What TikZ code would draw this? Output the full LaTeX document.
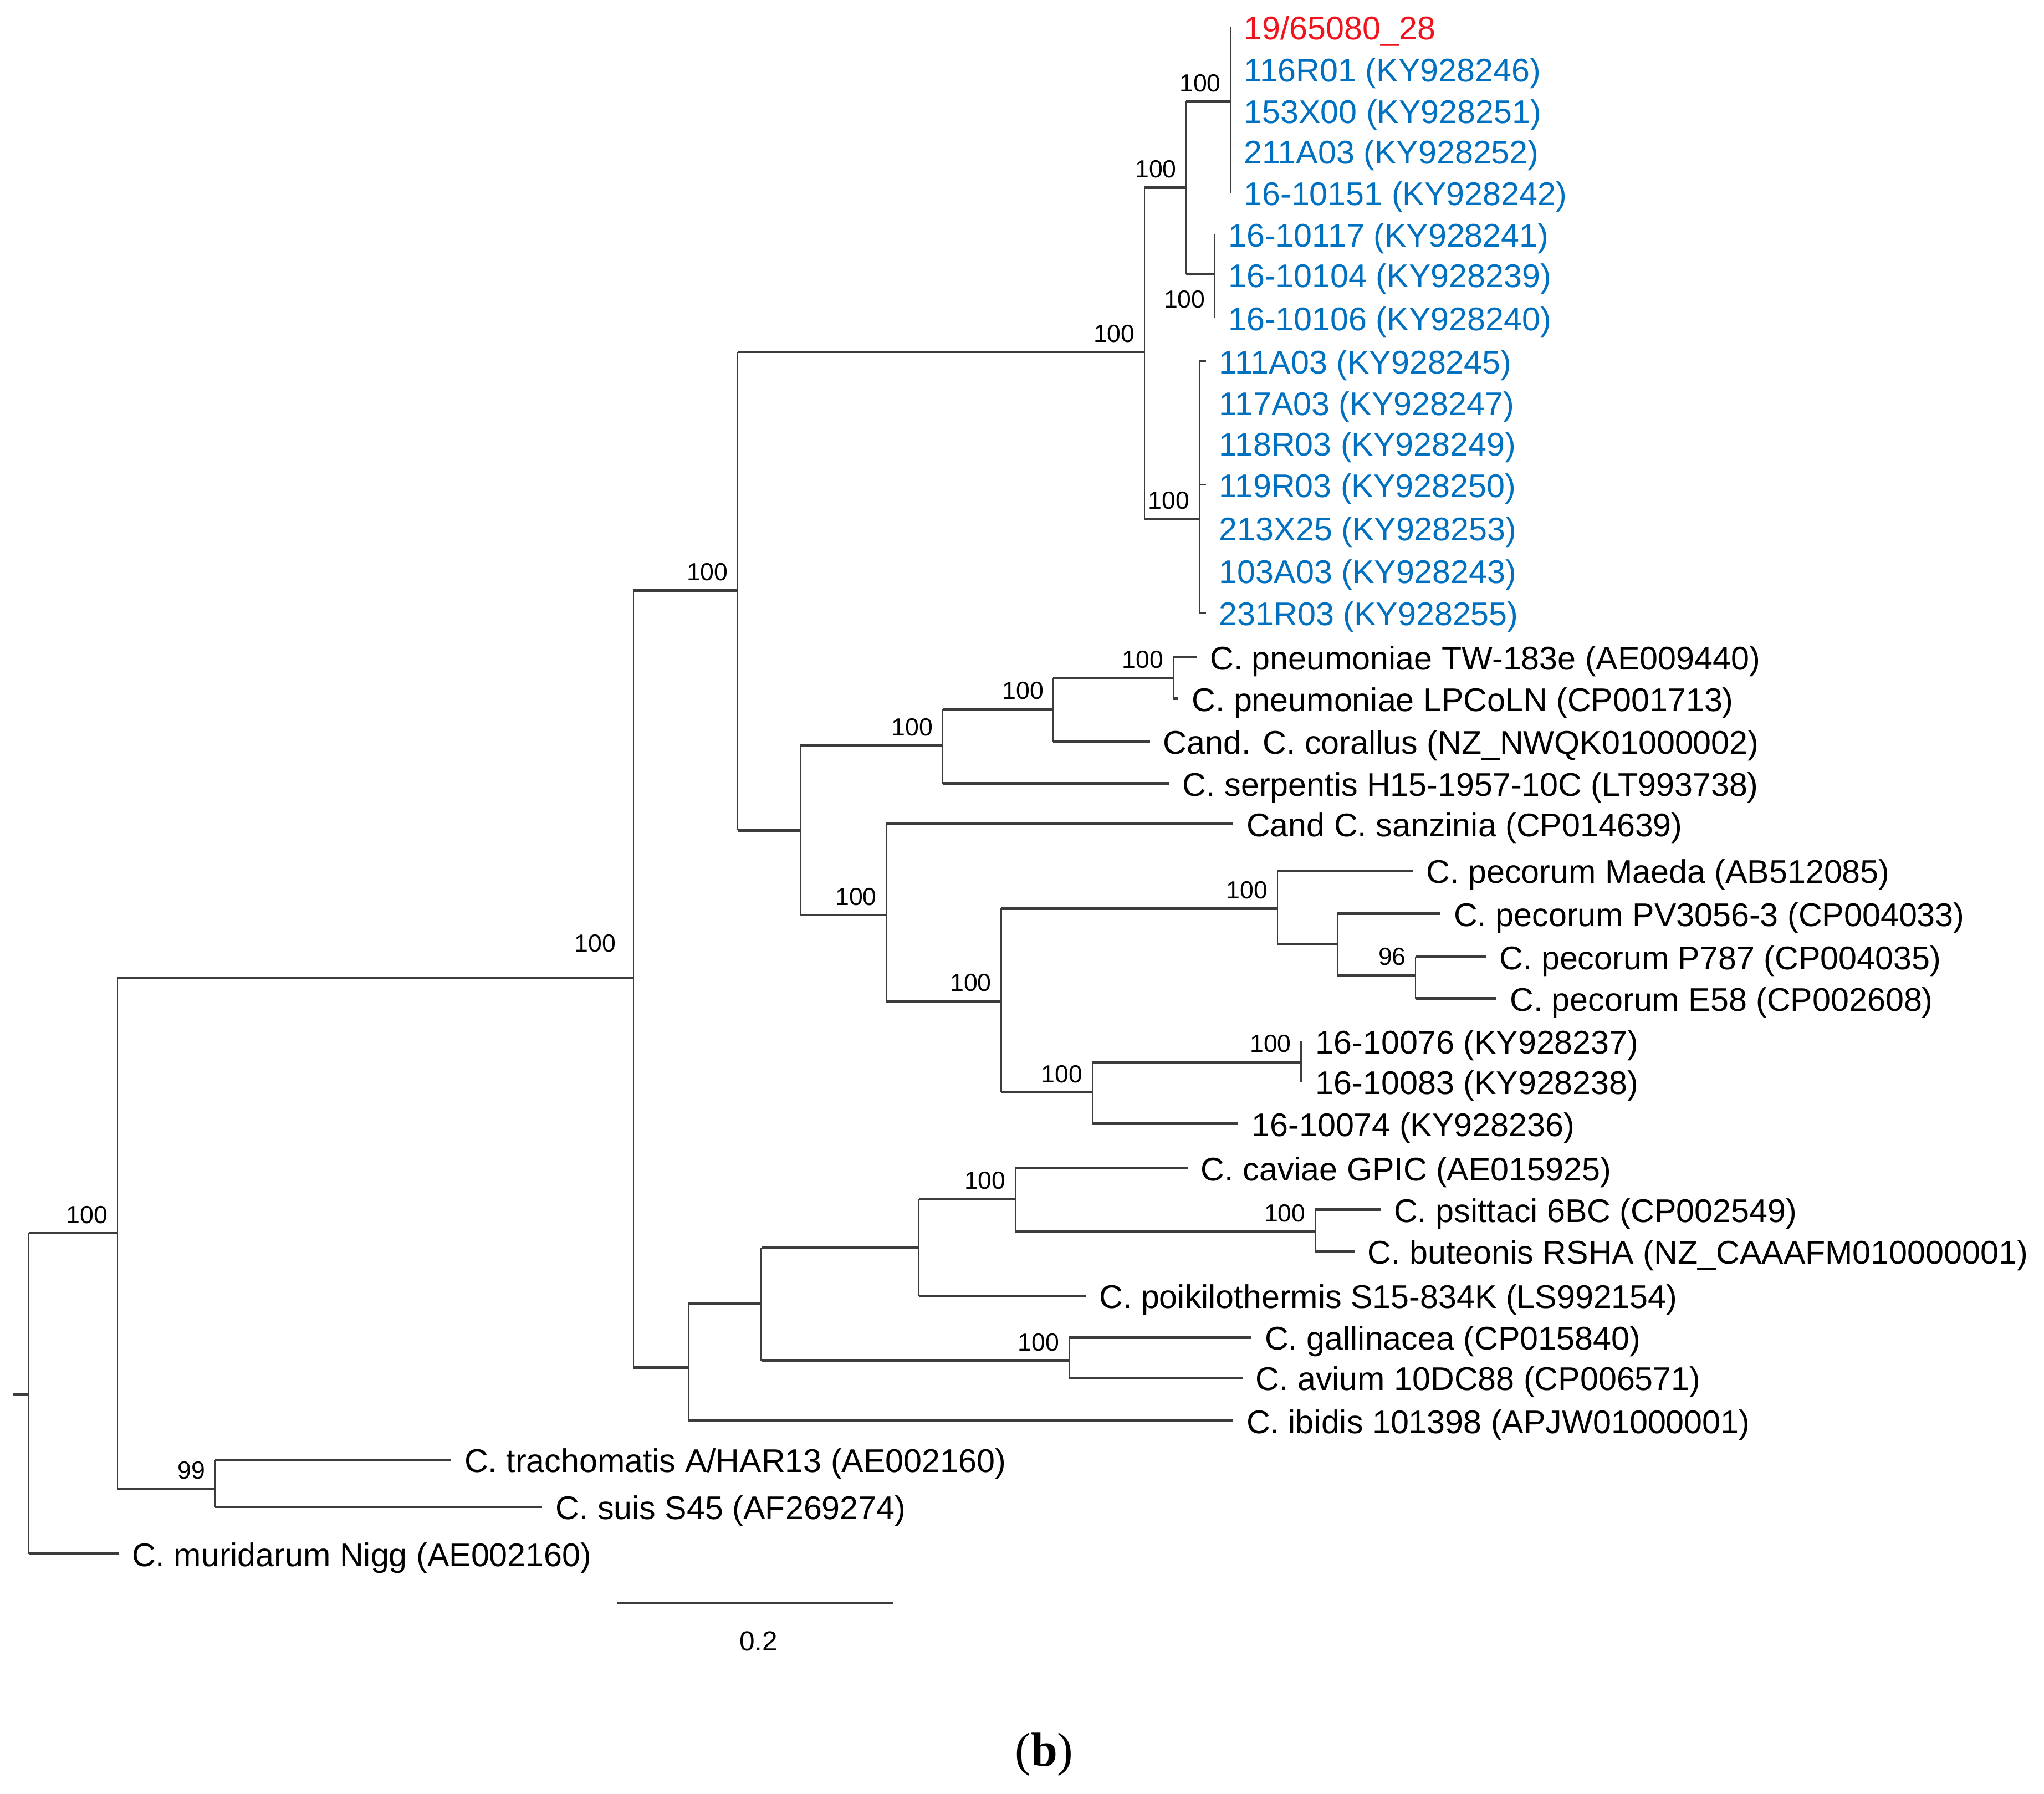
\documentclass[tikz,border=0pt]{standalone}
\usepackage{fontspec}
\setmainfont{Liberation Sans}
\newfontfamily\capfont{Liberation Serif}
\usetikzlibrary{positioning}
\definecolor{strainred}{RGB}{240,20,30}
\definecolor{strainblue}{RGB}{0,112,192}
\definecolor{branchgray}{RGB}{60,60,60}
\tikzstyle{leaf} = [anchor=west, inner xsep=0.25cm, inner ysep=0pt, text height=0.55cm, text depth=0.07cm, font=\fontsize{17.9}{20}\selectfont]
\tikzstyle{boot} = [anchor=south east, inner sep=0.1cm, xshift=-0.08cm, yshift=0.08cm, font=\fontsize{13.5}{15}\selectfont]
\tikzstyle{hbar} = [draw=branchgray, line width=1.4pt]
\tikzstyle{vbar} = [draw=branchgray, line width=0.7pt]

\begin{document}
\begin{tikzpicture}[x=0.025cm, y=-0.025cm]
        \useasboundingbox (0,0) rectangle (1568,1376);

        % leaves
        \node [leaf, text=strainred]  (s1)  at (944,21)  {19/65080\_28};
        \node [leaf, text=strainblue] (s2)  at (944,53)  {116R01 (KY928246)};
        \node [leaf, text=strainblue] (s3)  at (944,85)  {153X00 (KY928251)};
        \node [leaf, text=strainblue] (s4)  at (944,116) {211A03 (KY928252)};
        \node [leaf, text=strainblue] (s5)  at (944,148) {16-10151 (KY928242)};
        \node [leaf, text=strainblue] (s6)  at (932,180) {16-10117 (KY928241)};
        \node [leaf, text=strainblue] (s7)  at (932,211) {16-10104 (KY928239)};
        \node [leaf, text=strainblue] (s8)  at (932,244) {16-10106 (KY928240)};
        \node [leaf, text=strainblue] (s9)  at (925,277) {111A03 (KY928245)};
        \node [leaf, text=strainblue] (s10) at (925,309) {117A03 (KY928247)};
        \node [leaf, text=strainblue] (s11) at (925,340) {118R03 (KY928249)};
        \node [leaf, text=strainblue] (s12) at (925,372) {119R03 (KY928250)};
        \node [leaf, text=strainblue] (s13) at (925,405) {213X25 (KY928253)};
        \node [leaf, text=strainblue] (s14) at (925,438) {103A03 (KY928243)};
        \node [leaf, text=strainblue] (s15) at (925,470) {231R03 (KY928255)};
        \node [leaf] (s16) at (918,504)  {C. pneumoniae TW-183e (AE009440)};
        \node [leaf] (s17) at (904,536)  {C. pneumoniae LPCoLN (CP001713)};
        \node [leaf] (s18) at (882,569)  {Cand. C. corallus (NZ\_NWQK01000002)};
        \node [leaf] (s19) at (897,601)  {C. serpentis H15-1957-10C (LT993738)};
        \node [leaf] (s20) at (946,632)  {Cand C. sanzinia (CP014639)};
        \node [leaf] (s21) at (1084,668) {C. pecorum Maeda (AB512085)};
        \node [leaf] (s22) at (1105,701) {C. pecorum PV3056-3 (CP004033)};
        \node [leaf] (s23) at (1140,734) {C. pecorum P787 (CP004035)};
        \node [leaf] (s24) at (1148,766) {C. pecorum E58 (CP002608)};
        \node [leaf] (s25) at (999,799)  {16-10076 (KY928237)};
        \node [leaf] (s26) at (999,830)  {16-10083 (KY928238)};
        \node [leaf] (s27) at (950,862)  {16-10074 (KY928236)};
        \node [leaf] (s28) at (911,896)  {C. caviae GPIC (AE015925)};
        \node [leaf] (s29) at (1059,928) {C. psittaci 6BC (CP002549)};
        \node [leaf] (s30) at (1039,960) {C. buteonis RSHA (NZ\_CAAAFM010000001)};
        \node [leaf] (s31) at (833,994)  {C. poikilothermis S15-834K (LS992154)};
        \node [leaf] (s32) at (960,1026) {C. gallinacea (CP015840)};
        \node [leaf] (s33) at (953,1057) {C. avium 10DC88 (CP006571)};
        \node [leaf] (s34) at (946,1090) {C. ibidis 101398 (APJW01000001)};
        \node [leaf] (s35) at (346,1120) {C. trachomatis A/HAR13 (AE002160)};
        \node [leaf] (s36) at (416,1156) {C. suis S45 (AF269274)};
        \node [leaf] (s37) at (91,1192)  {C. muridarum Nigg (AE002160)};

        % internal nodes
        \coordinate (root) at (10,1070);
        \coordinate (nA)  at (22,1070);
        \coordinate (nB)  at (90,946);
        \coordinate (nT)  at (165,1142);
        \coordinate (nC)  at (486,750);
        \coordinate (nD)  at (566,453);
        \coordinate (nF)  at (878,270);
        \coordinate (nH)  at (910,144);
        \coordinate (nJ)  at (944,78);
        \coordinate (nK)  at (932,210);
        \coordinate (nI)  at (920,398);
        \coordinate (nG)  at (614,637);
        \coordinate (nL)  at (723,572);
        \coordinate (nN)  at (808,544);
        \coordinate (nO)  at (900,520);
        \coordinate (nM)  at (680,702);
        \coordinate (nP)  at (768,768);
        \coordinate (nQ)  at (980,697);
        \coordinate (nS)  at (1026,724);
        \coordinate (nU)  at (1086,748);
        \coordinate (nR)  at (838,838);
        \coordinate (nV)  at (998,815);
        \coordinate (nE)  at (528,1049);
        \coordinate (nW)  at (584,1000);
        \coordinate (nX)  at (705,957);
        \coordinate (nZ)  at (779,920);
        \coordinate (nAA) at (1009,945);
        \coordinate (nY)  at (820,1044);

        % vertical bars
        \draw [vbar] (nA |- nB) -- (nA |- s37);
        \draw [vbar] (nB |- nC) -- (nB |- nT);
        \draw [vbar] (nT |- s35) -- (nT |- s36);
        \draw [vbar] (nC |- nD) -- (nC |- nE);
        \draw [vbar] (nD |- nF) -- (nD |- nG);
        \draw [vbar] (nF |- nH) -- (nF |- nI);
        \draw [vbar] (nH |- nJ) -- (nH |- nK);
        \draw [vbar] (s1.west) -- (s5.west);
        \draw [vbar] (s6.west) -- (s8.west);
        \draw [vbar] (nI |- s9) -- (nI |- s15);
        \draw [vbar] (nG |- nL) -- (nG |- nM);
        \draw [vbar] (nL |- nN) -- (nL |- s19);
        \draw [vbar] (nN |- nO) -- (nN |- s18);
        \draw [vbar] (nO |- s16) -- (nO |- s17);
        \draw [vbar] (nM |- s20) -- (nM |- nP);
        \draw [vbar] (nP |- nQ) -- (nP |- nR);
        \draw [vbar] (nQ |- s21) -- (nQ |- nS);
        \draw [vbar] (nS |- s22) -- (nS |- nU);
        \draw [vbar] (nU |- s23) -- (nU |- s24);
        \draw [vbar] (nR |- nV) -- (nR |- s27);
        \draw [vbar] (nV |- s25) -- (nV |- s26);
        \draw [vbar] (nE |- nW) -- (nE |- s34);
        \draw [vbar] (nW |- nX) -- (nW |- nY);
        \draw [vbar] (nX |- nZ) -- (nX |- s31);
        \draw [vbar] (nZ |- s28) -- (nZ |- nAA);
        \draw [vbar] (nAA |- s29) -- (nAA |- s30);
        \draw [vbar] (nY |- s32) -- (nY |- s33);

        % horizontal branches
        \draw [hbar] (root) -- (nA);
        \draw [hbar] (nA |- nB) -- (nB);
        \draw [hbar] (nA |- s37) -- (s37.west);
        \draw [hbar] (nB |- nC) -- (nC);
        \draw [hbar] (nB |- nT) -- (nT);
        \draw [hbar] (nT |- s35) -- (s35.west);
        \draw [hbar] (nT |- s36) -- (s36.west);
        \draw [hbar] (nC |- nD) -- (nD);
        \draw [hbar] (nC |- nE) -- (nE);
        \draw [hbar] (nD |- nF) -- (nF);
        \draw [hbar] (nD |- nG) -- (nG);
        \draw [hbar] (nF |- nH) -- (nH);
        \draw [hbar] (nF |- nI) -- (nI);
        \draw [hbar] (nH |- nJ) -- (nJ);
        \draw [hbar] (nH |- nK) -- (nK);
        \draw [vbar] (nI |- s9) -- (s9.west);
        \draw [vbar] (nI |- s12) -- (s12.west);
        \draw [vbar] (nI |- s15) -- (s15.west);
        \draw [hbar] (nG |- nL) -- (nL);
        \draw [hbar] (nG |- nM) -- (nM);
        \draw [hbar] (nL |- nN) -- (nN);
        \draw [hbar] (nL |- s19) -- (s19.west);
        \draw [hbar] (nN |- nO) -- (nO);
        \draw [hbar] (nN |- s18) -- (s18.west);
        \draw [hbar] (nO |- s16) -- (s16.west);
        \draw [hbar] (nO |- s17) -- (s17.west);
        \draw [hbar] (nM |- s20) -- (s20.west);
        \draw [hbar] (nM |- nP) -- (nP);
        \draw [hbar] (nP |- nQ) -- (nQ);
        \draw [hbar] (nP |- nR) -- (nR);
        \draw [hbar] (nQ |- s21) -- (s21.west);
        \draw [hbar] (nQ |- nS) -- (nS);
        \draw [hbar] (nS |- s22) -- (s22.west);
        \draw [hbar] (nS |- nU) -- (nU);
        \draw [hbar] (nU |- s23) -- (s23.west);
        \draw [hbar] (nU |- s24) -- (s24.west);
        \draw [hbar] (nR |- nV) -- (nV);
        \draw [hbar] (nR |- s27) -- (s27.west);
        \draw [hbar] (nE |- nW) -- (nW);
        \draw [hbar] (nE |- s34) -- (s34.west);
        \draw [hbar] (nW |- nX) -- (nX);
        \draw [hbar] (nW |- nY) -- (nY);
        \draw [hbar] (nX |- nZ) -- (nZ);
        \draw [hbar] (nX |- s31) -- (s31.west);
        \draw [hbar] (nZ |- s28) -- (s28.west);
        \draw [hbar] (nZ |- nAA) -- (nAA);
        \draw [hbar] (nAA |- s29) -- (s29.west);
        \draw [hbar] (nAA |- s30) -- (s30.west);
        \draw [hbar] (nY |- s32) -- (s32.west);
        \draw [hbar] (nY |- s33) -- (s33.west);

        % bootstrap values
        \node [boot] (bB)  at (nB)  {100};
        \node [boot] (bT)  at (nT)  {99};
        \node [boot, xshift=-0.15cm, yshift=0.3cm] (bC) at (nC) {100};
        \node [boot] (bD)  at (nD)  {100};
        \node [boot] (bF)  at (nF)  {100};
        \node [boot] (bH)  at (nH)  {100};
        \node [boot] (bJ)  at (nJ)  {100};
        \node [boot, anchor=north east, yshift=-0.3cm] (bK) at (nK) {100};
        \node [boot] (bI)  at (nI)  {100};
        \node [boot] (bL)  at (nL)  {100};
        \node [boot] (bN)  at (nN)  {100};
        \node [boot] (bO)  at (nO)  {100};
        \node [boot] (bM)  at (nM)  {100};
        \node [boot] (bP)  at (nP)  {100};
        \node [boot] (bQ)  at (nQ)  {100};
        \node [boot] (bU)  at (nU)  {96};
        \node [boot] (bR)  at (nR)  {100};
        \node [boot] (bV)  at (nV)  {100};
        \node [boot] (bZ)  at (nZ)  {100};
        \node [boot] (bAA) at (nAA) {100};
        \node [boot] (bY)  at (nY)  {100};

        % scale bar
        \coordinate (barL) at (473,1230);
        \coordinate (barR) at (685,1230);
        \draw [hbar] (barL) -- (barR);
        \node [font=\fontsize{15}{17}\selectfont] (barval) at (582,1259) {0.2};

        \node [font=\capfont\fontsize{26}{30}\selectfont] (panel) at (801,1346) {(\textbf{b})};
\end{tikzpicture}
\end{document}
